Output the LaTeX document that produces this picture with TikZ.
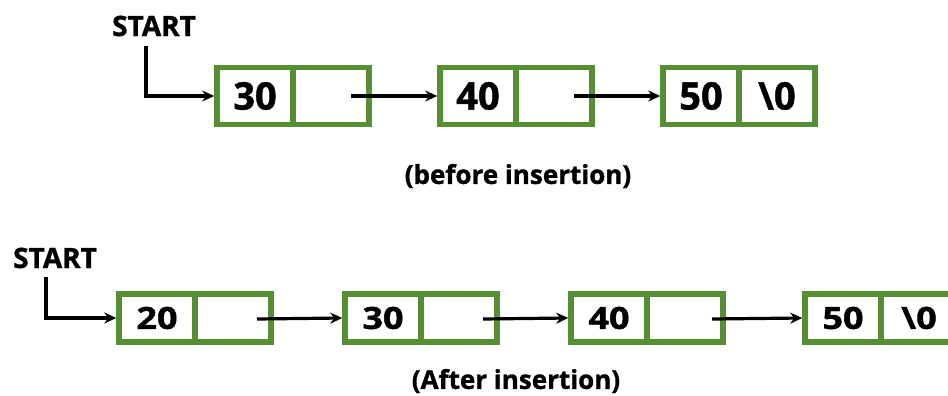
\documentclass[tikz,border=0pt]{standalone}
\usepackage{fontspec}
\usepackage{graphicx}
\setmainfont{Open Sans}[BoldFeatures={FakeBold=1.2}]
\usetikzlibrary{arrows.meta}
\definecolor{boxgreen}{RGB}{86,142,52}
\newcommand{\squash}[1]{\scalebox{1}[0.85]{#1}}
\begin{document}
\begin{tikzpicture}[x=1pt,y=-1pt,
  cellA/.style={draw=boxgreen,line width=5.5pt,minimum width=76pt,minimum height=57pt,inner sep=0pt,font=\fontsize{38}{38}\selectfont\bfseries},
  cellB/.style={draw=boxgreen,line width=5.5pt,minimum width=76pt,minimum height=48pt,inner sep=0pt,font=\fontsize{36}{36}\selectfont\bfseries},
  link/.style={line width=3.2pt,-{Stealth[length=12pt,width=11pt]}},
  lbl/.style={font=\fontsize{28}{28}\selectfont\bfseries,inner sep=0pt},
  captext/.style={font=\fontsize{26}{26}\selectfont\bfseries,inner sep=0pt}]
\clip (0,0) rectangle (948,396);
\useasboundingbox (0,0) rectangle (948,396);
% ---- before insertion ----
\node[lbl] (st1) at (154,26) {START};
\node[cellA] (a1) at (255,96) {30};
\node[cellA] (ap1) at (331,96) {};
\node[cellA] (a2) at (478,96) {40};
\node[cellA] (ap2) at (554,96) {};
\node[cellA] (a3) at (701,96) {50};
\node[cellA] (ap3) at (777,96) {\textbackslash 0};
\coordinate (sa) at (146,46);
\coordinate (pa1) at (351,96);
\coordinate (pa2) at (574,96);
\draw[link] (sa) |- (a1.west);
\draw[link] (pa1) -- (a2.west);
\draw[link] (pa2) -- (a3.west);
\node[captext] (c1) at (518,176) {(before insertion)};
% ---- after insertion ----
\node[lbl] (st2) at (55,258) {START};
\node[cellB] (b1) at (157,318) {\squash{20}};
\node[cellB] (bp1) at (233,318) {};
\node[cellB] (b2) at (383,318) {\squash{30}};
\node[cellB] (bp2) at (459,318) {};
\node[cellB] (b3) at (609,318) {\squash{40}};
\node[cellB] (bp3) at (685,318) {};
\node[cellB] (b4) at (843,318) {\squash{50}};
\node[cellB] (bp4) at (919,318) {\squash{\textbackslash 0}};
\coordinate (sb) at (46,277);
\coordinate (pb1) at (257,319);
\coordinate (pb2) at (483,319);
\coordinate (pb3) at (712,319);
\draw[link] (sb) |- (b1.west);
\draw[link] (pb1) -- (b2.west);
\draw[link] (pb2) -- (b3.west);
\draw[link] (pb3) -- (b4.west);
\node[captext] (c2) at (516,381) {(After insertion)};
\end{tikzpicture}
\end{document}
